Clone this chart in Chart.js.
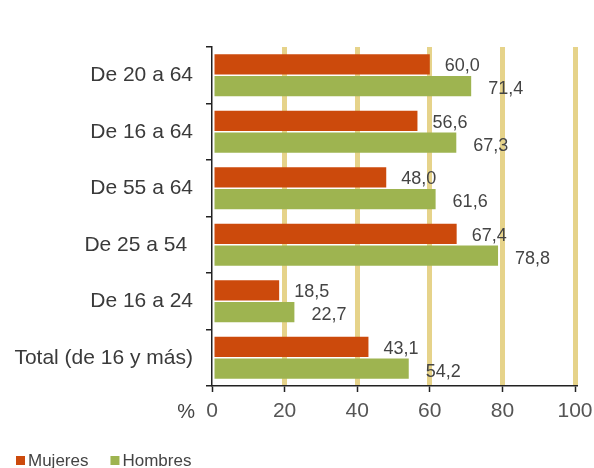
<!DOCTYPE html>
<html>
<head>
<meta charset="utf-8">
<script src="https://cdn.jsdelivr.net/npm/chart.js@4/dist/chart.umd.min.js"></script>
<style>
html,body{margin:0;padding:0;background:#fff;}
#wrap{width:594px;height:468px;position:relative;}
</style>
</head>
<body>
<div id="wrap"><canvas id="c" width="594" height="468"></canvas></div>
<script>
const categories = ["De 20 a 64", "De 16 a 64", "De 55 a 64", "De 25 a 54 ", "De 16 a 24", "Total (de 16 y más)"];
const mujeres = [60.0, 56.6, 48.0, 67.4, 18.5, 43.1];
const hombres = [71.4, 67.3, 61.6, 78.8, 22.7, 54.2];
const xTicks = [0, 20, 40, 60, 80, 100];

const FONT = '"Liberation Sans", Arial, sans-serif';
const fmt = v => v.toFixed(1).replace('.', ',');

const labelPlugin = {
  id: 'valueLabels',
  afterDatasetsDraw(chart) {
    const ctx = chart.ctx;
    ctx.save();
    ctx.font = '18px ' + FONT;
    ctx.fillStyle = '#444';
    ctx.textAlign = 'left';
    ctx.textBaseline = 'middle';
    chart.data.datasets.forEach((ds, di) => {
      const meta = chart.getDatasetMeta(di);
      meta.data.forEach((bar, i) => {
        const off = di === 0 ? 15 : 17;
        const dy = di === 0 ? 2 : 3;
        ctx.fillText(fmt(ds.data[i]), bar.x + off, bar.y + dy);
      });
    });
    // percent sign next to the x axis ticks
    const xs = chart.scales.x;
    ctx.font = '20px ' + FONT;
    ctx.fillStyle = '#444';
    ctx.textAlign = 'right';
    ctx.fillText('%', xs.left - 17, xs.top + 26);

    // legend at bottom-left
    ctx.font = '17px ' + FONT;
    ctx.textAlign = 'left';
    let x = 16;
    const y = 460;
    chart.data.datasets.forEach(ds => {
      ctx.fillStyle = ds.backgroundColor;
      ctx.fillRect(x, y - 4, 9, 9);
      ctx.fillStyle = '#444';
      ctx.fillText(ds.label, x + 12, y + 1);
      x += 12 + ctx.measureText(ds.label).width + 22;
    });
    ctx.restore();
  }
};

new Chart(document.getElementById('c'), {
  type: 'bar',
  data: {
    labels: categories,
    datasets: [
      { label: 'Mujeres', data: mujeres, backgroundColor: '#cc4a0c', borderWidth: 0 },
      { label: 'Hombres', data: hombres, backgroundColor: '#9eb450', borderWidth: 0 }
    ]
  },
  options: {
    indexAxis: 'y',
    responsive: false,
    animation: false,
    devicePixelRatio: 1,
    categoryPercentage: 0.77,
    barPercentage: 0.92,
    layout: { padding: { top: 47, right: 19, left: 0, bottom: 0 } },
    plugins: {
      legend: { display: false },
      tooltip: { enabled: false }
    },
    scales: {
      x: {
        min: 0, max: 100,
        afterBuildTicks(scale) { scale.ticks = xTicks.map(v => ({ value: v })); },
        grid: {
          color: ctx => (ctx.tick && ctx.tick.value === 0) ? 'rgba(0,0,0,0)' : '#e6d38a',
          lineWidth: 5,
          tickColor: '#222',
          tickWidth: 1.5,
          tickLength: 6
        },
        border: { color: '#222', width: 1.5 },
        ticks: {
          color: '#555',
          padding: 7,
          font: { size: 21, family: FONT }
        },
        afterFit(scale) {
          scale.height = 82;
          scale.paddingLeft = 0;
          scale.paddingRight = 0;
        }
      },
      y: {
        grid: {
          drawOnChartArea: false,
          color: '#222',
          tickLength: 6,
          lineWidth: 1.5
        },
        border: { color: '#222', width: 1.5 },
        ticks: {
          color: '#3a3a3a',
          padding: 13,
          font: { size: 21, family: FONT }
        },
        afterFit(scale) {
          scale.width = 212;
          scale.paddingTop = 0;
          scale.paddingBottom = 0;
        }
      }
    }
  },
  plugins: [labelPlugin]
});
</script>
</body>
</html>
